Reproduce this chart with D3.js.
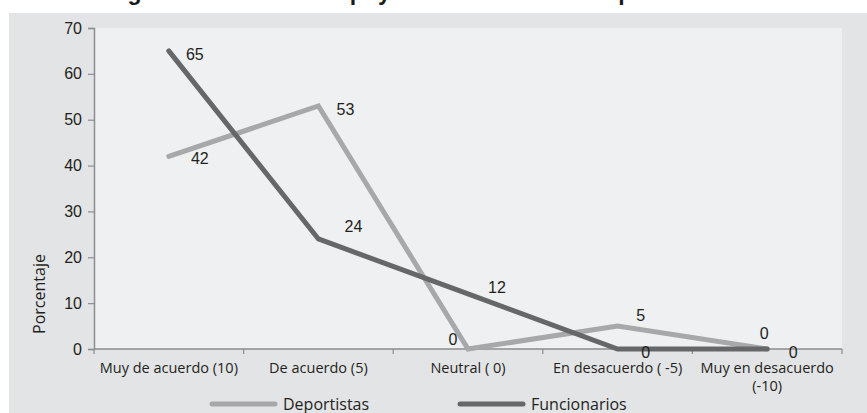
<!DOCTYPE html>
<html>
<head>
<meta charset="utf-8">
<script src="https://cdn.jsdelivr.net/npm/d3@7/dist/d3.min.js"></script>
<style>
  html, body { margin: 0; padding: 0; background: #ffffff; }
  svg { display: block; }
</style>
</head>
<body>
<svg id="chart" width="867" height="413"></svg>
<script>
// Response categories (x axis)
const categories = [
  ["Muy de acuerdo (10)"],
  ["De acuerdo (5)"],
  ["Neutral ( 0)"],
  ["En desacuerdo ( -5)"],
  ["Muy en desacuerdo", "(-10)"]
];
// Percentages per group
const deportistas = [42, 53, 0, 5, 0];
const funcionarios = [65, 24, 12, 0, 0];
const seriesNames = ["Deportistas", "Funcionarios"];
const yTicks = [0, 10, 20, 30, 40, 50, 60, 70];
const titleText = "Figura 4. Nivel de su apoyo en el ámbito del deporte";

// Centre of each data label relative to its point
const labelOffsets = {
  Deportistas:  [[31, 2], [27, 3], [-15, -10], [23, -11], [-3, -16]],
  Funcionarios: [[26, 3], [35, -13], [29, -7], [28, 3], [26, 3]]
};

const svg = d3.select("#chart");
const W = 867, H = 413;
const plot = { left: 94, right: 842, top: 28, bottom: 349 };

// Outer panel
svg.append("rect").attr("x", 9).attr("y", 13).attr("width", W - 9).attr("height", H - 13)
  .attr("fill", "#e3e4e6");
// Plot area
svg.append("rect").attr("x", plot.left).attr("y", plot.top)
  .attr("width", plot.right - plot.left).attr("height", plot.bottom - plot.top)
  .attr("fill", "#eff0f2");

// Title, running off the top edge
svg.append("text").attr("x", 107).attr("y", 0).attr("text-anchor", "start")
  .attr("font-family", "Liberation Sans, Arial, sans-serif").attr("font-weight", "bold")
  .attr("font-size", 23).attr("fill", "#1a1a1a").text(titleText);

const x = d3.scaleBand().domain(d3.range(categories.length))
  .range([plot.left, plot.right]).paddingInner(0).paddingOuter(0);
const y = d3.scaleLinear().domain([0, 70]).range([plot.bottom, plot.top]);

// Y axis
const yAxis = svg.append("g").attr("transform", `translate(${plot.left},0)`)
  .call(d3.axisLeft(y).tickValues(yTicks).tickSize(6).tickPadding(6));
yAxis.select(".domain").attr("stroke", "#8c8d8f").attr("stroke-width", 1.5);
yAxis.selectAll(".tick line").attr("stroke", "#8c8d8f").attr("stroke-width", 1.2);
yAxis.selectAll(".tick text").attr("font-family", "Liberation Sans, Arial, sans-serif")
  .attr("font-size", 16).attr("fill", "#231f20");

// X axis with ticks at category boundaries
const boundaries = d3.range(categories.length + 1).map(i => plot.left + i * x.bandwidth());
svg.append("line").attr("x1", plot.left).attr("x2", plot.right)
  .attr("y1", plot.bottom).attr("y2", plot.bottom)
  .attr("stroke", "#8c8d8f").attr("stroke-width", 1.5);
svg.selectAll(".xtick").data(boundaries).enter().append("line")
  .attr("x1", d => d).attr("x2", d => d)
  .attr("y1", plot.bottom).attr("y2", plot.bottom + 5)
  .attr("stroke", "#8c8d8f").attr("stroke-width", 1.2);

const xLabels = svg.selectAll(".xlabel").data(categories).enter().append("text")
  .attr("text-anchor", "middle")
  .attr("font-family", "Open Sans, sans-serif").attr("font-size", 14.5)
  .attr("fill", "#231f20")
  .attr("transform", (d, i) => `translate(${x(i) + x.bandwidth() / 2},${plot.bottom + 24})`);
xLabels.selectAll("tspan").data(d => d).enter().append("tspan")
  .attr("x", 0).attr("dy", (d, j) => j === 0 ? 0 : 18).text(d => d);

// Y axis title
svg.append("text").attr("transform", `translate(45,294) rotate(-90)`)
  .attr("text-anchor", "middle").attr("font-family", "Open Sans, sans-serif")
  .attr("font-size", 16).attr("fill", "#231f20").text("Porcentaje");

// Lines
const cx = i => x(i) + x.bandwidth() / 2;
const line = d3.line().x((d, i) => cx(i)).y(d => y(d));
const series = [
  { name: seriesNames[0], values: deportistas, color: "#a7a8aa" },
  { name: seriesNames[1], values: funcionarios, color: "#666769" }
];
series.forEach(s => {
  svg.append("path").datum(s.values).attr("d", line)
    .attr("fill", "none").attr("stroke", s.color).attr("stroke-width", 5)
    .attr("stroke-linejoin", "miter").attr("stroke-linecap", "round");
});

// Data labels
series.forEach(s => {
  svg.selectAll(null).data(s.values).enter().append("text")
    .attr("x", (d, i) => cx(i) + labelOffsets[s.name][i][0])
    .attr("y", (d, i) => y(d) + labelOffsets[s.name][i][1] + 6)
    .attr("text-anchor", "middle")
    .attr("font-family", "Liberation Sans, Arial, sans-serif").attr("font-size", 16)
    .attr("fill", "#231f20").text(d => d);
});

// Legend
const legendItems = [
  { name: seriesNames[0], color: "#a7a8aa", x: 210 },
  { name: seriesNames[1], color: "#666769", x: 458 }
];
legendItems.forEach(l => {
  svg.append("line").attr("x1", l.x + 2).attr("x2", l.x + 65)
    .attr("y1", 404).attr("y2", 404)
    .attr("stroke", l.color).attr("stroke-width", 5).attr("stroke-linecap", "round");
  svg.append("text").attr("x", l.x + 73).attr("y", 410)
    .attr("font-family", "Open Sans, sans-serif").attr("font-size", 16)
    .attr("fill", "#231f20").text(l.name);
});
</script>
</body>
</html>
